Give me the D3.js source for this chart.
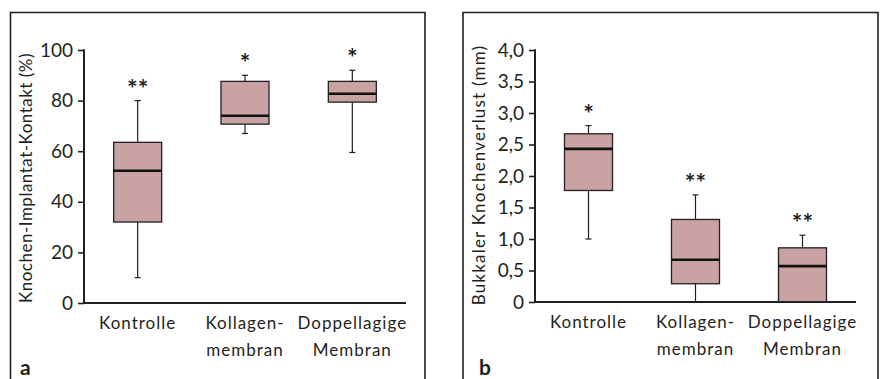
<!DOCTYPE html>
<html><head><meta charset="utf-8">
<script src="https://cdn.jsdelivr.net/npm/d3@7"></script>
<style>body{margin:0;background:#fff}svg{display:block}text{font-family:Lato,"Open Sans",sans-serif;fill:#231f20}</style>
</head><body><svg id="c" width="882" height="379"></svg>
<script>
const categories = [["Kontrolle"], ["Kollagen-", "membran"], ["Doppellagige", "Membran"]];
// panel a: Knochen-Implantat-Kontakt (%)
const aMin = [10, 67, 59.5];
const aQ1 = [32, 70.7, 79.4];
const aMed = [52.3, 74, 82.7];
const aQ3 = [63.5, 87.6, 87.6];
const aMax = [80, 90, 92];
const aStars = ["**", "*", "*"];
const aTicks = [0, 20, 40, 60, 80, 100];
// panel b: Bukkaler Knochenverlust (mm)
const bMin = [1.0, 0, 0];
const bQ1 = [1.77, 0.29, 0];
const bMed = [2.43, 0.67, 0.57];
const bQ3 = [2.67, 1.31, 0.86];
const bMax = [2.8, 1.7, 1.06];
const bStars = ["*", "**", "**"];
const bTicks = [0, 0.5, 1, 1.5, 2, 2.5, 3, 3.5, 4];
const bTickLabels = ["0", "0,5", "1,0", "1,5", "2,0", "2,5", "3,0", "3,5", "4,0"];

const svg = d3.select("#c");
const ink = "#231f20";
const fill = "#c9a3a3";

function panel(o) {
  const g = svg.append("g");
  // frame
  g.append("path").attr("d", `M${o.fx0},380 V${o.fy} H${o.fx1} V380`)
    .attr("fill", "none").attr("stroke", ink).attr("stroke-width", 1.6);
  const x = d3.scaleBand().domain(d3.range(3)).range([o.ax0, o.ax1]);
  const y = d3.scaleLinear().domain(o.domain).range([o.ay0, o.ay1]);
  // y axis
  const ya = g.append("g").attr("transform", `translate(${o.ax0},0)`)
    .call(d3.axisLeft(y).tickValues(o.ticks).tickSize(6).tickPadding(5)
      .tickFormat((d, i) => o.tickLabels[i]));
  ya.select(".domain").remove();
  ya.selectAll(".tick line").attr("stroke", ink).attr("stroke-width", 1.6);
  ya.selectAll(".tick text").attr("font-size", 19).attr("font-family", "Lato").attr("fill", ink);
  g.append("line").attr("x1", o.ax0).attr("x2", o.ax0).attr("y1", y(o.domain[1]) - 0.8).attr("y2", o.ay0 + 1)
    .attr("stroke", ink).attr("stroke-width", 2);
  // y title
  g.append("text").attr("transform", `translate(${o.tx},${o.ty}) rotate(-90)`)
    .attr("text-anchor", "middle").attr("dominant-baseline", "middle")
    .attr("font-size", 17).attr("letter-spacing", o.tls).text(o.title);
  // boxes
  const bw = 48;
  d3.range(3).forEach(i => {
    const cx = x(i) + x.bandwidth() / 2;
    g.append("line").attr("x1", cx).attr("x2", cx).attr("y1", y(o.max[i])).attr("y2", y(o.min[i]))
      .attr("stroke", ink).attr("stroke-width", 1.2);
    [o.max[i], o.min[i]].forEach(v => {
      if (v > o.domain[0]) g.append("line").attr("x1", cx - 3).attr("x2", cx + 3).attr("y1", y(v)).attr("y2", y(v))
        .attr("stroke", ink).attr("stroke-width", 1.2);
    });
    g.append("rect").attr("x", cx - bw / 2).attr("width", bw)
      .attr("y", y(o.q3[i])).attr("height", y(o.q1[i]) - y(o.q3[i]))
      .attr("fill", fill).attr("stroke", ink).attr("stroke-width", 1.3);
    g.append("line").attr("x1", cx - bw / 2).attr("x2", cx + bw / 2).attr("y1", y(o.med[i])).attr("y2", y(o.med[i]))
      .attr("stroke", "#111").attr("stroke-width", 2.6);
    g.append("text").attr("x", cx).attr("y", y(o.max[i]) - 3).attr("text-anchor", "middle")
      .attr("font-size", 25).attr("font-weight", 700).text(o.stars[i]);
    // category label
    const t = g.append("text").attr("text-anchor", "middle").attr("font-size", 17).attr("letter-spacing", 1);
    categories[i].forEach((s, k) => t.append("tspan").attr("x", cx).attr("y", o.ay0 + 26 + k * 27).text(s));
  });
  // x axis
  g.append("line").attr("x1", o.ax0).attr("x2", o.ax1).attr("y1", o.ay0).attr("y2", o.ay0)
    .attr("stroke", ink).attr("stroke-width", 2);
  // panel letter
  g.append("text").attr("x", o.lx).attr("y", 375).attr("font-size", 21).attr("font-weight", 700).text(o.letter);
}

panel({fx0: 10.5, fx1: 425, fy: 12.5, ax0: 84, ax1: 406, ay0: 303, ay1: 50, domain: [0, 100],
  ticks: aTicks, tickLabels: aTicks.map(String), title: "Knochen-Implantat-Kontakt (%)", tx: 28, ty: 178, tls: 0.5,
  min: aMin, q1: aQ1, med: aMed, q3: aQ3, max: aMax, stars: aStars, letter: "a", lx: 20});
panel({fx0: 463, fx1: 878, fy: 12.5, ax0: 535, ax1: 856, ay0: 302, ay1: 50, domain: [0, 4],
  ticks: bTicks, tickLabels: bTickLabels, title: "Bukkaler Knochenverlust (mm)", tx: 481, ty: 175, tls: 1.2,
  min: bMin, q1: bQ1, med: bMed, q3: bQ3, max: bMax, stars: bStars, letter: "b", lx: 479});
</script></body></html>
